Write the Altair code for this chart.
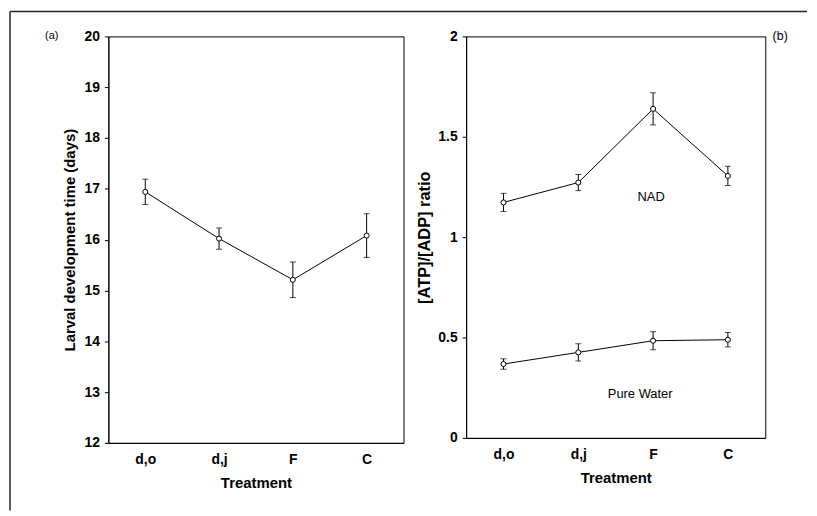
import altair as alt
import pandas as pd

FONT = "Liberation Sans"

treatments = ["d,o", "d,j", "F", "C"]

# Panel (a): larval development time (days)
dev_mean = [16.94, 16.02, 15.21, 16.08]
dev_err = [0.25, 0.21, 0.35, 0.43]

# Panel (b): [ATP]/[ADP] ratio
nad_mean = [1.173, 1.272, 1.639, 1.305]
nad_err = [0.045, 0.040, 0.080, 0.048]
water_mean = [0.368, 0.426, 0.484, 0.489]
water_err = [0.026, 0.043, 0.045, 0.036]

series_labels = ["NAD", "Pure Water"]
label_x = ["F", "F"]
label_y = [1.20, 0.218]
label_dx = [-2, -13]

df_a = pd.DataFrame({"treatment": treatments, "mean": dev_mean, "err": dev_err})
df_b = pd.concat([
    pd.DataFrame({"treatment": treatments, "mean": nad_mean, "err": nad_err, "series": "NAD"}),
    pd.DataFrame({"treatment": treatments, "mean": water_mean, "err": water_err, "series": "Pure Water"}),
], ignore_index=True)
df_lab = pd.DataFrame({"label": series_labels, "treatment": label_x, "y": label_y, "dx": label_dx})

xscale = alt.Scale(domain=treatments, type="point", padding=0.5)


def x_enc():
    return alt.X(
        "treatment:N", sort=treatments, scale=xscale, title="Treatment",
        axis=alt.Axis(labelAngle=0, ticks=False, tickSize=0, labelPadding=10,
                      titlePadding=9, labelFontSize=14, labelFontWeight="bold",
                      titleFontSize=15, titleFontWeight="bold", domainColor="black",
                      labelColor="black", titleColor="black", labelFont=FONT, titleFont=FONT),
    )


def y_axis(values, title, fmt, tpad, tsize):
    return alt.Axis(values=values, format=fmt, grid=False, tickSize=4, tickColor="black",
                    labelPadding=5, titlePadding=tpad, labelFontSize=14, labelFontWeight="bold",
                    titleFontSize=tsize, titleFontWeight="bold", domainColor="black",
                    labelColor="black", titleColor="black", labelFont=FONT, titleFont=FONT)


def panel(df, ydom, yvals, ytitle, fmt, tpad, tsize, detail=None):
    ysc = alt.Scale(domain=ydom, nice=False, zero=False)
    base = alt.Chart(df).transform_calculate(
        lo="datum.mean - datum.err", hi="datum.mean + datum.err"
    )
    enc_extra = {"detail": alt.Detail(f"{detail}:N")} if detail else {}
    line = base.mark_line(color="black", strokeWidth=1).encode(
        x=x_enc(),
        y=alt.Y("mean:Q", scale=ysc, title=ytitle, axis=y_axis(yvals, ytitle, fmt, tpad, tsize)),
        **enc_extra,
    )
    bars = base.mark_rule(color="black", strokeWidth=1).encode(
        x="treatment:N", y="lo:Q", y2="hi:Q")
    cap_lo = base.mark_tick(color="black", thickness=1, size=6, orient="horizontal").encode(
        x="treatment:N", y="lo:Q")
    cap_hi = base.mark_tick(color="black", thickness=1, size=6, orient="horizontal").encode(
        x="treatment:N", y="hi:Q")
    pts = base.mark_point(shape="circle", size=26, fill="white", fillOpacity=1, filled=False,
                          stroke="black", strokeWidth=1, opacity=1).encode(
        x="treatment:N", y="mean:Q")
    return line + bars + cap_lo + cap_hi + pts


left = panel(df_a, [12, 20], list(range(12, 21)), "Larval development time (days)", "d", 7, 15)

frame = alt.Chart(pd.DataFrame({"k": [0]})).mark_rule(color="#222222", strokeWidth=1.5).encode(
    x=alt.value(-99), y=alt.value(-25), y2=alt.value(477))
frame_top = alt.Chart(pd.DataFrame({"k": [0]})).mark_rule(color="#222222", strokeWidth=1.5).encode(
    x=alt.value(-99), x2=alt.value(703), y=alt.value(-25))
tag_a = alt.Chart(pd.DataFrame({"t": ["(a)"]})).mark_text(
    font=FONT, fontSize=11, color="black", align="center", baseline="middle").encode(
    text="t:N", x=alt.value(-57), y=alt.value(0))

left = (left + frame + frame_top + tag_a).properties(width=297, height=409)

right = panel(df_b, [0, 2], [0, 0.5, 1, 1.5, 2], "[ATP]/[ADP] ratio", "~g", 5, 16.5, detail="series")
labels = alt.Chart(df_lab).mark_text(font=FONT, fontSize=13, color="black",
                                     align="center", baseline="middle").encode(
    x=alt.X("treatment:N", sort=treatments, scale=xscale),
    y=alt.Y("y:Q"),
    text="label:N",
)
labels_nad = labels.transform_filter("datum.label == 'NAD'").mark_text(
    font=FONT, fontSize=13, color="black", dx=-2)
labels_w = labels.transform_filter("datum.label == 'Pure Water'").mark_text(
    font=FONT, fontSize=13, color="black", dx=-13)
tag_b = alt.Chart(pd.DataFrame({"t": ["(b)"]})).mark_text(
    font=FONT, fontSize=12.5, color="black", align="center", baseline="middle").encode(
    text="t:N", x=alt.value(316), y=alt.value(0))

right = (right + labels_nad + labels_w + tag_b).properties(width=301, height=404)

chart = alt.hconcat(left, right, spacing=63, bounds="flush").properties(
    padding=0, background="white"
).configure_view(stroke="black", strokeWidth=1).configure_axis(domainWidth=1)

chart.save("out.html", embed_options={"renderer": "svg", "actions": False})
